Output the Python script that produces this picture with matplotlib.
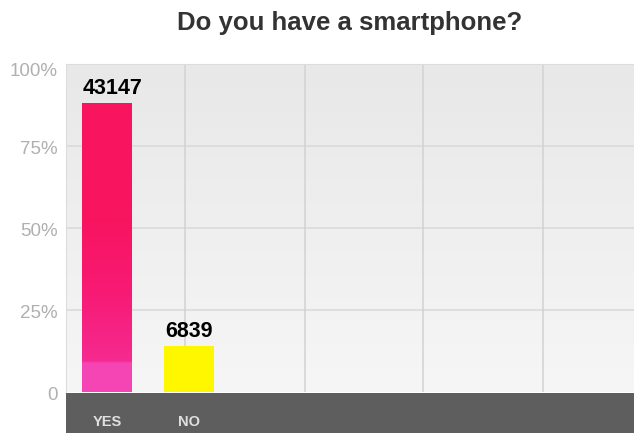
import numpy as np
import matplotlib
matplotlib.use("Agg")
import matplotlib.pyplot as plt
import matplotlib.transforms as mtransforms
from matplotlib.colors import LinearSegmentedColormap

categories = ["YES", "NO"]
counts = [43147, 6839]
percent_heights = [88.1, 14.0]
y_ticks = [0, 25, 50, 75, 100]
y_tick_labels = ["0", "25%", "50%", "75%", "100%"]
title = "Do you have a smartphone?"

W, H = 634, 433
fig = plt.figure(figsize=(W / 100, H / 100), dpi=100)
fig.patch.set_facecolor("white")

ax_l, ax_r, ax_t, ax_b = 66, 634, 64, 392
ax = fig.add_axes([ax_l / W, 1 - ax_b / H, (ax_r - ax_l) / W, (ax_b - ax_t) / H])

px_per_unit = 82.0
x0 = -(107 - ax_l) / px_per_unit
x1 = x0 + (ax_r - ax_l) / px_per_unit
ax.set_xlim(x0, x1)
ax.set_ylim(0, 100)

# background gradient
bg = LinearSegmentedColormap.from_list("bg", ["#f6f6f6", "#e8e8e8"])
grad = np.linspace(0, 1, 256).reshape(-1, 1)
ax.imshow(grad, cmap=bg, aspect="auto", extent=[x0, x1, 0, 100], origin="lower", zorder=0)

# grid
for yv in [25, 50, 75]:
    ax.axhline(yv, color="#d8d8d8", lw=1.1, zorder=1)
for px in [185, 305, 423, 543]:
    ax.axvline(x0 + (px - ax_l) / px_per_unit, color="#d2d2d2", lw=1.1, zorder=1)

xs = np.arange(len(categories))
bw = 0.6
bars = ax.bar(xs, percent_heights, width=bw, color=["#f8145f", "#fff700"], zorder=2)

# gradient on YES bar
yes = bars[0]
cm = LinearSegmentedColormap.from_list(
    "yes", [(0, "#f545b5"), (0.1, "#f545b5"), (0.105, "#f52a90"), (0.35, "#f71a74"), (0.6, "#f8145f"), (1, "#f8145f")])
im = ax.imshow(grad, cmap=cm, aspect="auto",
               extent=[xs[0] - bw / 2, xs[0] + bw / 2, 0, percent_heights[0]],
               origin="lower", zorder=3)
im.set_clip_path(yes)

for x, h, c in zip(xs, percent_heights, counts):
    ax.text(x - bw / 2 + 0.005, h + 1.3, f"{c}", ha="left", va="bottom", fontsize=15.5,
            fontweight="bold", color="black", family="Liberation Sans", zorder=4)

ax.set_xticks([])
ax.set_yticks(y_ticks)
ax.set_yticklabels(y_tick_labels, color="#b0b0b0", fontsize=13.5, family="Liberation Sans")
ax.tick_params(axis="y", length=0, pad=6)
labels = ax.get_yticklabels()
for i, lab in enumerate(labels):
    dy = -6 if i == len(labels) - 1 else -1
    lab.set_transform(lab.get_transform() + mtransforms.ScaledTranslation(0, dy / 100, fig.dpi_scale_trans))
for s in ["top", "right", "left", "bottom"]:
    ax.spines[s].set_visible(False)
ax.spines["top"].set_visible(True)
ax.spines["top"].set_color("#dcdcdc")
ax.spines["left"].set_visible(True)
ax.spines["left"].set_color("#dcdcdc")

# dark band below
band = fig.add_axes([ax_l / W, 0, (ax_r - ax_l) / W, (H - 393) / H])
band.set_xlim(x0, x1)
band.set_ylim(0, 1)
band.set_facecolor("#5e5e5e")
for s in band.spines.values():
    s.set_visible(False)
band.set_xticks([])
band.set_yticks([])
for x, cat in zip(xs, categories):
    band.text(x, 0.27, cat, ha="center", va="center", color="#e0e0e0",
              fontsize=10.5, fontweight="bold", family="Liberation Sans")

fig.text(350 / W, 1 - 23 / H, title, ha="center", va="center", fontsize=18.5,
         fontweight="bold", color="#333333", family="Liberation Sans")

fig.savefig("out.png", dpi=100)
